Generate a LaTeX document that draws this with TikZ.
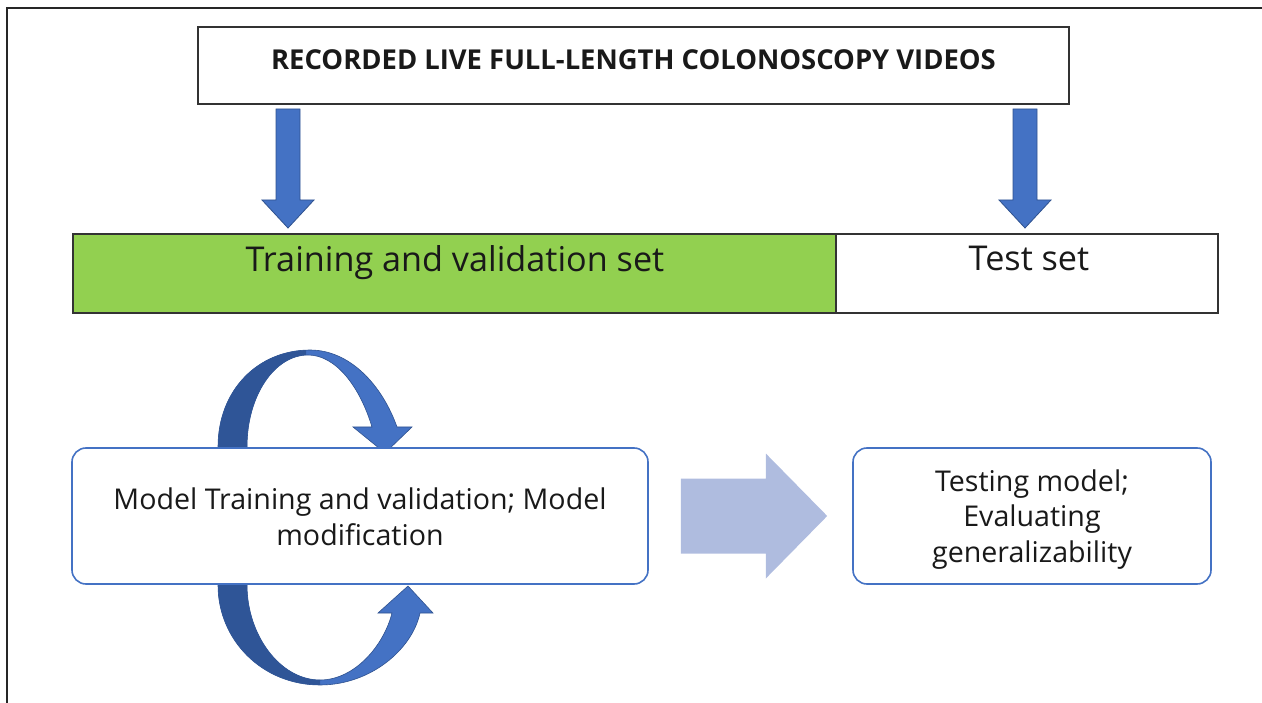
\documentclass[tikz,border=0pt]{standalone}
\usepackage{fontspec}
\setmainfont{Open Sans}
\usetikzlibrary{calc}

\definecolor{accent}{HTML}{4472C4}
\definecolor{accentdark}{HTML}{2F5597}
\definecolor{accentedge}{HTML}{2F528F}
\definecolor{leafgreen}{HTML}{92D050}
\definecolor{paleblue}{HTML}{AFBCDF}

\tikzset{
  plainbox/.style={draw=black!80, line width=1.2pt, fill=white, inner sep=0pt},
  roundbox/.style={draw=accent, line width=1.6pt, fill=white, rounded corners=14pt, inner sep=0pt},
  caption/.style={inner sep=0pt, text=black!90},
  blockarrow/.style={fill=accent, draw=accentedge, line width=0.8pt},
  bendarrow/.style={fill=accent, draw=accentedge, line width=0.6pt},
}

\begin{document}
\begin{tikzpicture}[x=1pt,y=-1pt]
\useasboundingbox (0,0) rectangle (1262,703);

% outer frame (top and left edges)
\draw[line width=1.6pt, black!85] (7,703) -- (7,8) -- (1262,8);

% source box
\node[plainbox, minimum width=871pt, minimum height=77pt] (src) at (633.5,65.5) {};
\node[caption, anchor=base, font=\fontsize{27.4}{32}\selectfont\bfseries] (srctxt) at (633.5,70) {RECORDED LIVE FULL-LENGTH COLONOSCOPY VIDEOS};

% split into training/validation and test sets
\node[plainbox, fill=leafgreen, minimum width=763pt, minimum height=79pt] (train) at (454.5,273.5) {};
\node[plainbox, minimum width=382pt, minimum height=79pt] (test) at (1027,273.5) {};
\node[caption, anchor=base, font=\fontsize{34.2}{40}\selectfont] (traintxt) at (455,272) {Training and validation set};
\node[caption, anchor=base, font=\fontsize{34.2}{40}\selectfont] (testtxt) at (1029,271) {Test set};

% down arrows from the source box
\coordinate (a1) at (288,109);
\coordinate (a2) at (1025,109);
\foreach \c in {a1,a2}{
  \draw[blockarrow] ($(\c)+(-12,0)$) -- ($(\c)+(12,0)$) -- ($(\c)+(12,91)$) -- ($(\c)+(26,91)$)
    -- ($(\c)+(0,119)$) -- ($(\c)+(-26,91)$) -- ($(\c)+(-12,91)$) -- cycle;
}

% training loop: arrow over the top
\begin{scope}
  \draw[bendarrow] (218,447) .. controls (218,390) and (258,350) .. (310,350)
    .. controls (350,350) and (382,385) .. (397,427)
    -- (412,427) -- (385,453) -- (353,427) -- (372,427)
    .. controls (360,387) and (336,355) .. (308,355)
    .. controls (275,355) and (247,395) .. (247,447) -- cycle;
  \clip (200,340) rectangle (306,450);
  \fill[accentdark] (218,447) .. controls (218,390) and (258,350) .. (310,350)
    -- (308,355) .. controls (275,355) and (247,395) .. (247,447) -- cycle;
\end{scope}

% training loop: arrow underneath
\begin{scope}
  \draw[bendarrow] (218,585) .. controls (218,640) and (262,685) .. (320,685)
    .. controls (370,685) and (412,650) .. (420,613)
    -- (433,613) -- (408,586) -- (378,613) -- (392,613)
    .. controls (384,645) and (355,680) .. (320,680)
    .. controls (280,680) and (247,635) .. (247,585) -- cycle;
  \clip (200,580) rectangle (322,700);
  \fill[accentdark] (218,585) .. controls (218,640) and (262,685) .. (320,685)
    -- (320,680) .. controls (280,680) and (247,635) .. (247,585) -- cycle;
\end{scope}

% model development and evaluation
\node[roundbox, minimum width=576pt, minimum height=136pt] (dev) at (360,516) {};
\node[roundbox, minimum width=358pt, minimum height=136pt] (eval) at (1032,516) {};
\node[caption, align=center, font=\fontsize{28.6}{36}\selectfont] (devtxt) at (360,517) {Model Training and validation; Model\\modification};
\node[caption, align=center, font=\fontsize{28.6}{35.5}\selectfont] (evaltxt) at (1032,519.5) {Testing model;\\Evaluating\\generalizability};

% transfer arrow between the two stages
\fill[paleblue] ($(dev.east)+(32,-37.5)$) -- ($(dev.east)+(117,-37.5)$) -- ($(dev.east)+(117,-62.5)$)
  -- ($(eval.west)+(-25,0)$) -- ($(dev.east)+(117,62.5)$) -- ($(dev.east)+(117,37.5)$)
  -- ($(dev.east)+(32,37.5)$) -- cycle;
\end{tikzpicture}
\end{document}
